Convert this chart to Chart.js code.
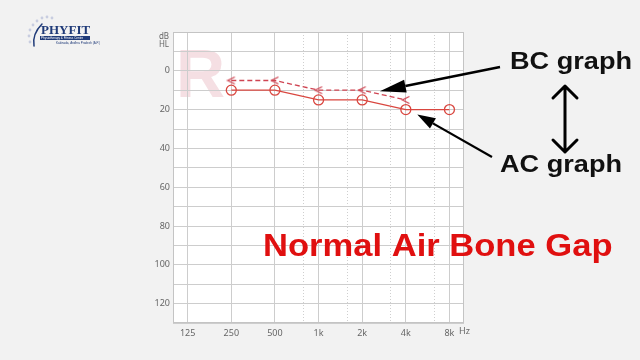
<!DOCTYPE html>
<html>
<head>
<meta charset="utf-8">
<script src="https://cdn.jsdelivr.net/npm/chart.js@4/dist/chart.umd.min.js"></script>
<style>
  html, body { margin: 0; padding: 0; background: #f2f2f2; }
  #wrap { width: 640px; height: 360px; }
</style>
</head>
<body>
<div id="wrap"><canvas id="audiogram" width="640" height="360"></canvas></div>
<script>
// Audiogram values (dB HL)
const acFreqs = [250, 500, 1000, 2000, 4000, 8000];
const acValues = [10, 10, 15, 15, 20, 20];
const bcFreqs = [250, 500, 1000, 2000, 4000];
const bcValues = [5, 5, 10, 10, 15];

const freqTicks = [125, 250, 500, 1000, 2000, 4000, 8000];
const freqLabels = ["125", "250", "500", "1k", "2k", "4k", "8k"];
const midFreqTicks = [790, 1580, 3160, 6320];
const dbLabels = [0, 20, 40, 60, 80, 100, 120];

const red = "#d9463f";
const redDash = "#cf4452";

// "<" marker for bone conduction
function bcMarker() {
    const c = document.createElement("canvas");
    c.width = 10;
    c.height = 10;
    const g = c.getContext("2d");
    g.strokeStyle = redDash;
    g.lineWidth = 1.3;
    g.beginPath();
    g.moveTo(8.5, 1.5);
    g.lineTo(1.5, 5);
    g.lineTo(8.5, 8.5);
    g.stroke();
    return c;
}

function arrow(ctx, x1, y1, x2, y2, w, headLen, headW) {
    const a = Math.atan2(y2 - y1, x2 - x1);
    const bx = x2 - Math.cos(a) * headLen;
    const by = y2 - Math.sin(a) * headLen;
    ctx.strokeStyle = "#000";
    ctx.fillStyle = "#000";
    ctx.lineWidth = w;
    ctx.beginPath();
    ctx.moveTo(x1, y1);
    ctx.lineTo(bx, by);
    ctx.stroke();
    ctx.beginPath();
    ctx.moveTo(x2, y2);
    ctx.lineTo(bx + Math.sin(a) * headW / 2, by - Math.cos(a) * headW / 2);
    ctx.lineTo(bx - Math.sin(a) * headW / 2, by + Math.cos(a) * headW / 2);
    ctx.closePath();
    ctx.fill();
}

function stretchedText(ctx, text, x, y, font, color, sx) {
    ctx.save();
    ctx.font = font;
    ctx.fillStyle = color;
    ctx.textBaseline = "alphabetic";
    ctx.translate(x, y);
    ctx.scale(sx, 1);
    ctx.fillText(text, 0, 0);
    ctx.restore();
}

const decor = {
    id: "decor",
    beforeDraw(chart) {
        const { ctx, chartArea: a } = chart;
        ctx.save();
        ctx.fillStyle = "#f2f2f2";
        ctx.fillRect(0, 0, chart.width, chart.height);
        ctx.fillStyle = "#ffffff";
        ctx.fillRect(a.left, a.top, a.right - a.left, a.bottom - a.top);
        ctx.font = "bold 68px 'Liberation Sans', Arial, sans-serif";
        ctx.fillStyle = "#f5dfe3";
        ctx.fillText("R", a.left + 3, a.top + 65);
        ctx.restore();
    },
    afterDraw(chart) {
        const { ctx, chartArea: a, scales } = chart;
        ctx.save();
        // plot frame
        ctx.strokeStyle = "#c4c4c4";
        ctx.lineWidth = 1;
        ctx.strokeRect(a.left + 0.5, a.top + 0.5, a.right - a.left - 1, a.bottom - a.top - 1);

        // axis units
        ctx.fillStyle = "#666";
        ctx.font = "8px 'Noto Sans', sans-serif";
        ctx.textAlign = "right";
        ctx.fillText("dB", a.left - 4, a.top + 7);
        ctx.fillText("HL", a.left - 4, a.top + 15);
        ctx.textAlign = "left";
        ctx.font = "9px 'Noto Sans', sans-serif";
        ctx.fillText("Hz", a.right - 5, a.bottom + 11);

        // labels on the right
        const f = "bold 24px 'Liberation Sans', Arial, sans-serif";
        stretchedText(ctx, "BC graph", 510, 69, f, "#111", 1.13);
        stretchedText(ctx, "AC graph", 500, 172, f, "#111", 1.13);
        stretchedText(ctx, "Normal Air Bone Gap", 263, 256,
            "bold 32px 'Liberation Sans', Arial, sans-serif", "#e01010", 1.08);

        // pointer arrows anchored on the graph
        const x = scales.x, y = scales.y;
        arrow(ctx, 500, 67, x.getPixelForValue(2650), y.getPixelForValue(10.5), 2.6, 26, 13);
        arrow(ctx, 492, 157, x.getPixelForValue(4800), y.getPixelForValue(22.5), 2.2, 18, 12);

        // double arrow
        ctx.strokeStyle = "#000";
        ctx.lineWidth = 3;
        ctx.lineCap = "round";
        ctx.lineJoin = "round";
        ctx.beginPath();
        ctx.moveTo(565, 86);
        ctx.lineTo(565, 152);
        ctx.moveTo(553, 98);
        ctx.lineTo(565, 86);
        ctx.lineTo(577, 98);
        ctx.moveTo(553, 140);
        ctx.lineTo(565, 152);
        ctx.lineTo(577, 140);
        ctx.stroke();

        // logo
        ctx.fillStyle = "#c8cde0";
        [[30, 42], [29, 36], [30, 30], [33, 25], [37, 21], [42, 18], [47, 17], [52, 18]].forEach(p => {
            ctx.beginPath();
            ctx.arc(p[0], p[1], 1.4, 0, Math.PI * 2);
            ctx.fill();
        });
        ctx.strokeStyle = "#1f3a78";
        ctx.lineWidth = 1.5;
        ctx.beginPath();
        ctx.moveTo(42, 24);
        ctx.quadraticCurveTo(32, 34, 34, 46);
        ctx.stroke();
        ctx.fillStyle = "#1f3a78";
        ctx.font = "bold 12px 'Liberation Sans', Arial, sans-serif";
        stretchedText(ctx, "PHYFIT", 41, 34, "bold 13px 'Liberation Serif', serif", "#1f3a78", 1.0);
        ctx.fillRect(40, 36, 50, 4);
        ctx.fillStyle = "#ffffff";
        ctx.font = "3px sans-serif";
        ctx.fillText("Physiotherapy & Fitness Centre", 41, 39);
        ctx.fillStyle = "#1f3a78";
        ctx.fillText("Kakinada, Andhra Pradesh (A.P.)", 56, 44);
        ctx.restore();
    }
};

const ctx = document.getElementById("audiogram").getContext("2d");

new Chart(ctx, {
    type: "scatter",
    data: {
        datasets: [
            {
                label: "AC",
                data: acFreqs.map((f, i) => ({ x: f, y: acValues[i] })),
                showLine: true,
                borderColor: red,
                borderWidth: 1.3,
                pointStyle: "circle",
                pointRadius: 5,
                pointBorderWidth: 1.3,
                pointBorderColor: red,
                pointBackgroundColor: "rgba(0,0,0,0)",
            },
            {
                label: "BC",
                data: bcFreqs.map((f, i) => ({ x: f, y: bcValues[i] })),
                showLine: true,
                borderColor: redDash,
                borderWidth: 1.3,
                borderDash: [5, 3],
                pointStyle: bcMarker(),
                pointRadius: 5,
            },
        ],
    },
    options: {
        responsive: false,
        animation: false,
        layout: { padding: { top: 32, right: 176, left: 0, bottom: 0 } },
        plugins: {
            legend: { display: false },
            tooltip: { enabled: false },
        },
        scales: {
            x: {
                type: "logarithmic",
                min: 99,
                max: 10080,
                afterBuildTicks: (s) => { s.ticks = freqTicks.map(v => ({ value: v })); },
                afterFit: (s) => { s.height = 37; },
                ticks: {
                    autoSkip: false,
                    maxRotation: 0,
                    padding: 5,
                    color: "#666",
                    font: { family: "'Noto Sans', sans-serif", size: 9 },
                    callback: (v, i) => freqLabels[i],
                },
                grid: { color: "#cdcdcd", drawTicks: false },
                border: { display: false },
            },
            x2: {
                type: "logarithmic",
                position: "bottom",
                min: 99,
                max: 10080,
                afterBuildTicks: (s) => { s.ticks = midFreqTicks.map(v => ({ value: v })); },
                afterFit: (s) => { s.height = 0; },
                ticks: { display: false },
                grid: { color: "#cfcfcf", drawTicks: false },
                border: { display: false, dash: [1, 2] },
            },
            y: {
                type: "linear",
                reverse: true,
                min: -20,
                max: 130,
                afterFit: (s) => { s.width = 173; },
                ticks: {
                    stepSize: 10,
                    padding: 3,
                    color: "#666",
                    font: { family: "'Noto Sans', sans-serif", size: 9 },
                    callback: (v) => dbLabels.includes(v) ? v : "",
                },
                grid: { color: "#cdcdcd", drawTicks: false },
                border: { display: false },
            },
        },
    },
    plugins: [decor],
});
</script>
</body>
</html>
